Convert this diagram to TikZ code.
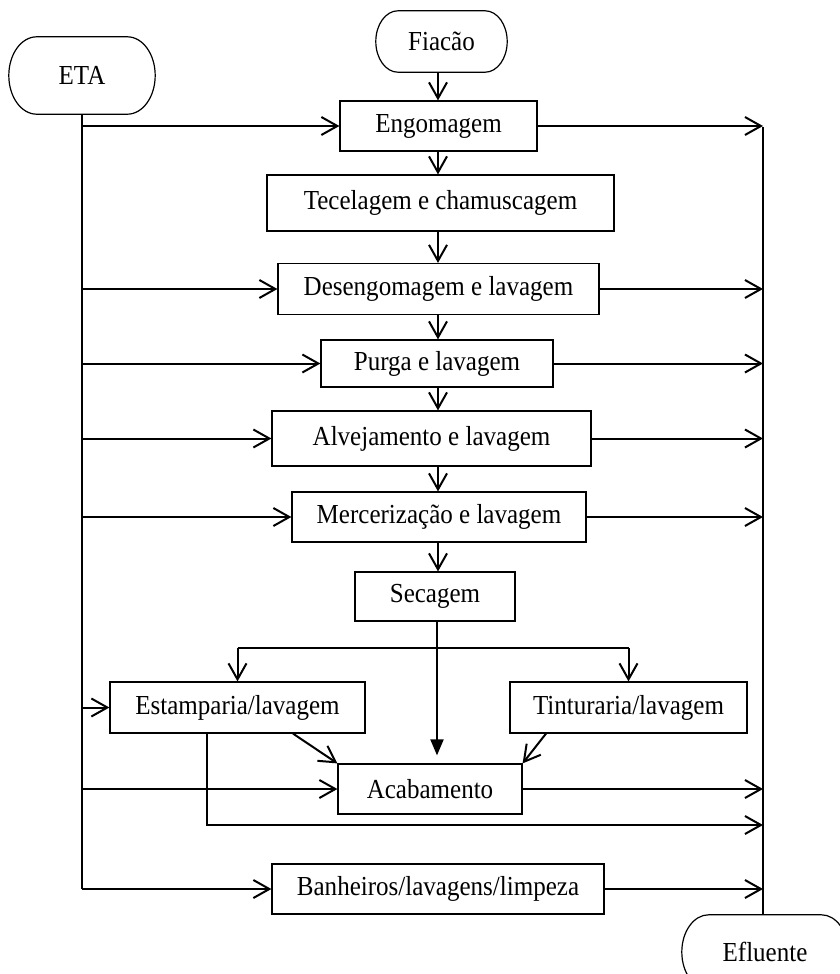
\documentclass[tikz,border=0pt]{standalone}
\usepackage{fontspec}
\setmainfont{Liberation Serif}[FakeStretch=0.91]
\usetikzlibrary{arrows.meta,calc}

% outline of the start/end boxes: straight top and bottom, curved sides
\newcommand{\termshape}[1]{%
  \draw[line width=1.2pt] let \p1=(#1.north east), \p2=(#1.south west),
    \n1={(\y1-\y2)/2}, \n2={0.72*\n1} in
    ({\x2+\n2*1pt},\y1) -- ({\x1-\n2*1pt},\y1)
    arc[start angle=90,end angle=-90,x radius={\n2*1pt},y radius={\n1*1pt}]
    -- ({\x2+\n2*1pt},\y2)
    arc[start angle=270,end angle=90,x radius={\n2*1pt},y radius={\n1*1pt}] -- cycle;}

\begin{document}
\begin{tikzpicture}[x=1pt,y=-1pt,
    every node/.style={font=\fontsize{27.5}{32}\selectfont},
    proc/.style={draw,line width=1.2pt,inner sep=0pt},
    term/.style={inner sep=0pt},
    line/.style={line width=2pt},
    arr/.style={line width=2pt,-{Straight Barb[length=16pt,width=18pt]}},
    fillarr/.style={line width=2pt,-{Triangle[length=16pt,width=13pt]}}
]
\useasboundingbox (0,0) rectangle (840,974);
\clip (0,0) rectangle (840,974);

\node[term,minimum width=146pt,minimum height=77pt] (eta) at (82,75.5) {ETA};
\node[term,minimum width=131pt,minimum height=61pt] (fiac) at (441.5,41.5) {Fiacão};
\node[term,minimum width=166pt,minimum height=74pt] (eflu) at (765,952) {Efluente};
\termshape{eta}
\termshape{fiac}
\termshape{eflu}

\node[proc,minimum width=197pt,minimum height=50pt] (engo) at (438.5,126) {Engomagem};
\node[proc,minimum width=347pt,minimum height=56pt] (tece) at (440.5,203) {Tecelagem e chamuscagem};
\node[proc,minimum width=321pt,minimum height=51pt] (deseng) at (438.5,289) {Desengomagem e lavagem};
\node[proc,minimum width=232pt,minimum height=47pt] (purga) at (437,363.5) {Purga e lavagem};
\node[proc,minimum width=319pt,minimum height=55pt] (alve) at (431.5,438.5) {Alvejamento e lavagem};
\node[proc,minimum width=294pt,minimum height=50pt] (merc) at (439,517) {Mercerização e lavagem};
\node[proc,minimum width=160pt,minimum height=49pt] (seca) at (435,596.5) {Secagem};
\node[proc,minimum width=255pt,minimum height=51pt] (esta) at (237.5,707.5) {Estamparia/lavagem};
\node[proc,minimum width=237pt,minimum height=51pt] (tint) at (628.5,707.5) {Tinturaria/lavagem};
\node[proc,minimum width=184pt,minimum height=50pt] (acab) at (430,789) {Acabamento};
\node[proc,minimum width=332pt,minimum height=50pt] (banh) at (438,889) {Banheiros/lavagens/limpeza};

\coordinate (col) at (438,0);
\coordinate (drain) at (763,127);
\coordinate (split) at (437,648);
\coordinate (bypass) at (207,825);

% main line
\draw[arr] (fiac.south -| col) -- (engo.north -| col);
\draw[arr] (engo.south -| col) -- (tece.north -| col);
\draw[arr] (tece.south -| col) -- (deseng.north -| col);
\draw[arr] (deseng.south -| col) -- (purga.north -| col);
\draw[arr] (purga.south -| col) -- (alve.north -| col);
\draw[arr] (alve.south -| col) -- (merc.north -| col);
\draw[arr] (merc.south -| col) -- (seca.north -| col);

% after drying
\draw[line] (seca.south -| split) -- (split);
\draw[line] (esta.north |- split) -- (tint.north |- split);
\draw[arr] (esta.north |- split) -- (esta.north);
\draw[arr] (tint.north |- split) -- (tint.north);
\draw[fillarr,shorten >=8pt] (split) -- (split |- acab.north);
\draw[arr] ([xshift=55.5pt]esta.south) -- (acab.north west);
\draw[arr] ([xshift=-82.5pt]tint.south) -- (acab.north east);
\draw[arr] (esta.south -| bypass) -- (bypass) -- (bypass -| drain);

% water from ETA
\draw[line] (eta.south) -- (eta.south |- banh.west);
\draw[arr] (eta.south |- engo.west) -- (engo.west);
\draw[arr] (eta.south |- deseng.west) -- (deseng.west);
\draw[arr] (eta.south |- purga.west) -- (purga.west);
\draw[arr] (eta.south |- alve.west) -- (alve.west);
\draw[arr] (eta.south |- merc.west) -- (merc.west);
\draw[arr] (eta.south |- esta.west) -- (esta.west);
\draw[arr] (eta.south |- acab.west) -- (acab.west);
\draw[arr] (eta.south |- banh.west) -- (banh.west);

% effluent
\draw[line] (drain) -- (drain |- eflu.north);
\draw[arr] (engo.east) -- (engo.east -| drain);
\draw[arr] (deseng.east) -- (deseng.east -| drain);
\draw[arr] (purga.east) -- (purga.east -| drain);
\draw[arr] (alve.east) -- (alve.east -| drain);
\draw[arr] (merc.east) -- (merc.east -| drain);
\draw[arr] (acab.east) -- (acab.east -| drain);
\draw[arr] (banh.east) -- (banh.east -| drain);
\end{tikzpicture}
\end{document}
